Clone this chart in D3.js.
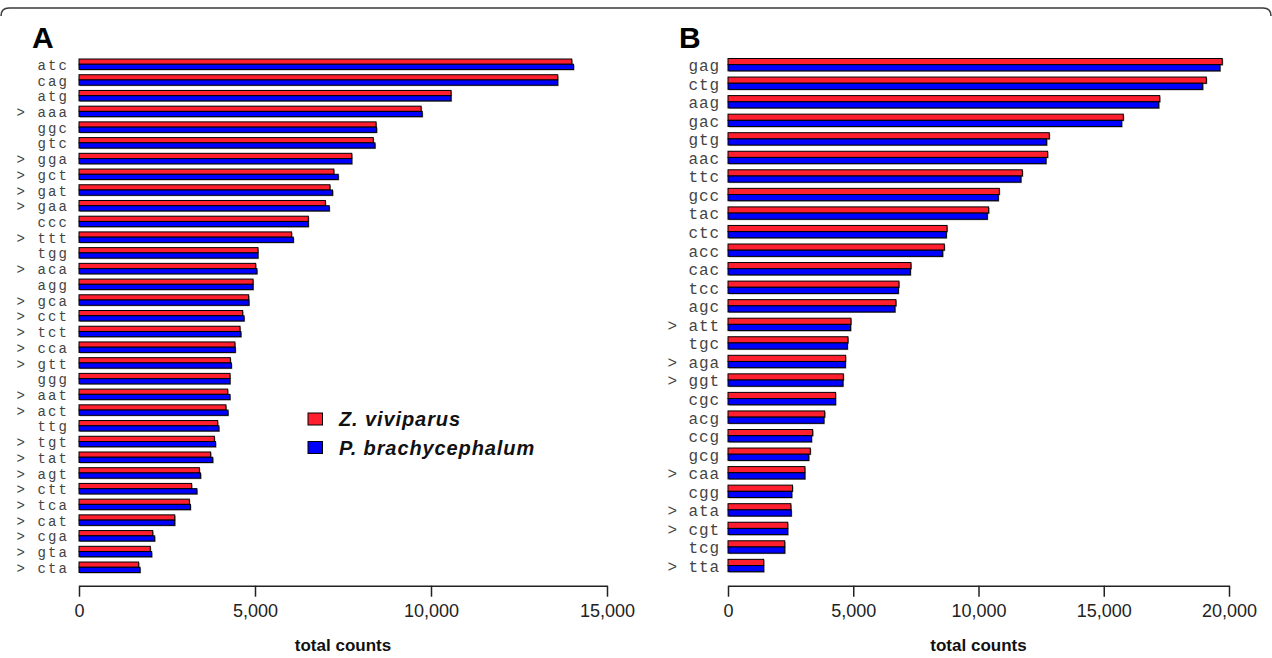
<!DOCTYPE html>
<html>
<head>
<meta charset="utf-8">
<script src="https://cdn.jsdelivr.net/npm/d3@7"></script>
<style>
  body { margin: 0; background: #fff; }
  .codon { font-family: "Liberation Mono", "Courier New", monospace; fill: #444; }
  .tick text { font-family: "Liberation Sans", Arial, sans-serif; font-size: 18px; fill: #222; }
  .xlabel { font-family: "Liberation Sans", Arial, sans-serif; font-size: 17px; font-weight: bold; fill: #111; }
  .panel { font-family: "Liberation Sans", Arial, sans-serif; font-size: 30px; font-weight: bold; fill: #000; }
  .legend text { font-family: "Liberation Sans", Arial, sans-serif; font-size: 20px; font-weight: bold; font-style: italic; letter-spacing: 0.9px; fill: #111; }
</style>
</head>
<body>
<script>
// series names + colours
const seriesNames = ["Z. viviparus", "P. brachycephalum"];
const seriesColors = ["#ff1f2e", "#0000ff"];

// panel A: codons (">" marks the ones flagged in the figure)
const codonsA = ["atc", "cag", "atg", "> aaa", "ggc", "gtc", "> gga", "> gct", "> gat", "> gaa", "ccc",
  "> ttt", "tgg", "> aca", "agg", "> gca", "> cct", "> tct", "> cca", "> gtt", "ggg", "> aat", "> act",
  "ttg", "> tgt", "> tat", "> agt", "> ctt", "> tca", "> cat", "> cga", "> gta", "> cta"];
const zvivA = [14000, 13600, 10570, 9720, 8440, 8360, 7750, 7240, 7130, 7000, 6515,
  6040, 5085, 5020, 4945, 4820, 4650, 4575, 4430, 4300, 4290, 4225, 4175,
  3940, 3845, 3740, 3420, 3200, 3135, 2720, 2095, 2025, 1695];
const pbraA = [14050, 13600, 10570, 9750, 8455, 8410, 7750, 7365, 7205, 7110, 6515,
  6090, 5085, 5055, 4945, 4830, 4690, 4600, 4440, 4330, 4290, 4290, 4235,
  3975, 3880, 3800, 3455, 3350, 3165, 2720, 2150, 2065, 1735];

// panel B
const codonsB = ["gag", "ctg", "aag", "gac", "gtg", "aac", "ttc", "gcc", "tac", "ctc", "acc", "cac",
  "tcc", "agc", "> att", "tgc", "> aga", "> ggt", "cgc", "acg", "ccg", "gcg", "> caa", "cgg",
  "> ata", "> cgt", "tcg", "> tta"];
const zvivB = [19730, 19095, 17235, 15780, 12825, 12760, 11750, 10830, 10405, 8745, 8635, 7305,
  6825, 6705, 4910, 4790, 4695, 4605, 4295, 3860, 3380, 3285, 3070, 2575,
  2510, 2385, 2265, 1425];
const pbraB = [19640, 18950, 17195, 15715, 12720, 12695, 11695, 10790, 10350, 8715, 8570, 7280,
  6800, 6665, 4895, 4765, 4685, 4590, 4295, 3830, 3335, 3225, 3070, 2545,
  2525, 2385, 2265, 1425];

const ticksA = [0, 5000, 10000, 15000];
const ticksB = [0, 5000, 10000, 15000, 20000];

const W = 1272, H = 658;
const svg = d3.select("body").append("svg").attr("width", W).attr("height", H);

// frame line across the top
svg.append("path")
  .attr("d", `M1,16 Q1,8 9,8 L1263,8 Q1271,8 1271,16`)
  .attr("fill", "none").attr("stroke", "#3a3a3a").attr("stroke-width", 1.5);

function drawPanel(opt) {
  const g = svg.append("g");
  const x = d3.scaleLinear().domain(opt.domain).range(opt.xRange);
  const y = d3.scaleBand().domain(opt.codons).range(opt.yRange).paddingInner(1 / 3).paddingOuter(0);
  const inner = d3.scaleBand().domain([0, 1]).range([0, y.bandwidth()]);

  const rows = opt.codons.map((c, i) => ({ codon: c, vals: [opt.z[i], opt.p[i]] }));

  const grp = g.selectAll("g.row").data(rows).join("g")
    .attr("class", "row")
    .attr("transform", (d) => `translate(0,${y(d.codon)})`);

  const bars = (d) => d.vals.map((v, k) => ({ v, k }));
  // soft grey shadow behind each bar
  grp.selectAll("rect.shadow").data(bars).join("rect")
    .attr("class", "shadow")
    .attr("x", x(0) + 1)
    .attr("y", (d) => inner(d.k) + 1)
    .attr("width", (d) => x(d.v) - x(0))
    .attr("height", inner.bandwidth())
    .attr("fill", "#9a9a9a");
  grp.selectAll("rect.bar").data(bars).join("rect")
    .attr("class", "bar")
    .attr("x", x(0))
    .attr("y", (d) => inner(d.k))
    .attr("width", (d) => x(d.v) - x(0))
    .attr("height", inner.bandwidth())
    .attr("fill", (d) => seriesColors[d.k])
    .attr("stroke", "#000").attr("stroke-width", 1);

  // codon labels (letter-spacing adds a trailing gap, so shift right by it)
  g.selectAll("text.codon").data(opt.codons).join("text")
    .attr("class", "codon")
    .style("font-size", opt.labelSize + "px")
    .style("letter-spacing", opt.labelSpacing + "px")
    .attr("x", opt.labelX + opt.labelSpacing)
    .attr("y", (d) => y(d) + y.bandwidth() / 2 + opt.labelSize * 0.4)
    .attr("text-anchor", "end")
    .attr("xml:space", "preserve")
    .text((d) => d);

  const axis = d3.axisBottom(x).tickValues(opt.ticks).tickFormat(d3.format(","))
    .tickSize(11).tickSizeOuter(0).tickPadding(7.5);
  const ga = g.append("g").attr("transform", `translate(0,${opt.axisY})`).call(axis);
  ga.select(".domain").attr("stroke", "#222").attr("stroke-width", 1.5);
  ga.selectAll(".tick line").attr("stroke", "#222").attr("stroke-width", 1.5);

  g.append("text").attr("class", "xlabel")
    .attr("x", (opt.xRange[0] + opt.xRange[1]) / 2)
    .attr("y", 651)
    .attr("text-anchor", "middle")
    .text("total counts");

  g.append("text").attr("class", "panel")
    .attr("x", opt.letterX).attr("y", 47.5)
    .text(opt.letter);
}

drawPanel({
  letter: "A", letterX: 32,
  codons: codonsA, z: zvivA, p: pbraA, ticks: ticksA,
  domain: [0, 15000], xRange: [79, 607], yRange: [59, 572.5],
  labelX: 67, labelSize: 14, labelSpacing: 2.1, axisY: 585.7
});
drawPanel({
  letter: "B", letterX: 679,
  codons: codonsB, z: zvivB, p: pbraB, ticks: ticksB,
  domain: [0, 20000], xRange: [728, 1229], yRange: [58.5, 571.7],
  labelX: 719, labelSize: 16, labelSpacing: 0.9, axisY: 585.7
});

// legend
const legend = svg.append("g").attr("class", "legend").attr("transform", "translate(308,413)");
const li = legend.selectAll("g").data(seriesNames).join("g")
  .attr("transform", (d, i) => `translate(0,${i * 28.5})`);
li.append("rect").attr("width", 14.5).attr("height", 12)
  .attr("fill", (d, i) => seriesColors[i]).attr("stroke", "#000").attr("stroke-width", 1);
li.append("text").attr("x", 31).attr("y", 13).text((d) => d);
</script>
</body>
</html>
